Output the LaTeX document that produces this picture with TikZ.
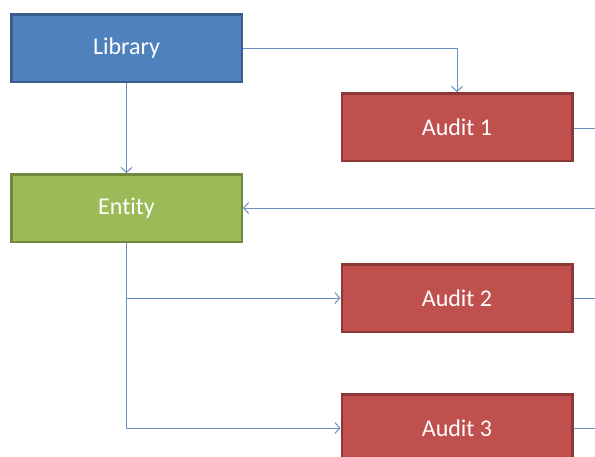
\documentclass[tikz,border=0pt]{standalone}
\usepackage{fontspec}
\setmainfont{Carlito}[Ligatures=NoCommon]
\usetikzlibrary{arrows.meta}
\usetikzlibrary{positioning}
\definecolor{libblue}{HTML}{4F81BD}
\definecolor{libborder}{HTML}{3A5F8C}
\definecolor{entgreen}{HTML}{9BBB59}
\definecolor{entborder}{HTML}{71893F}
\definecolor{audred}{HTML}{C0504D}
\definecolor{audborder}{HTML}{8C3836}
\definecolor{linkblue}{HTML}{6A90C0}
\begin{document}
\begin{tikzpicture}
  [x=1pt,y=-1pt,
  box/.style={rectangle,line width=2.5pt,minimum width=230.5pt,minimum height=67.5pt,inner sep=0pt,
    text=white,font=\fontsize{24}{28}\selectfont},
  libbox/.style={box,draw=libborder,fill=libblue},
  entbox/.style={box,draw=entborder,fill=entgreen},
  audbox/.style={box,draw=audborder,fill=audred},
  link/.style={draw=linkblue,line width=1pt,>={Straight Barb[length=5pt,width=11pt]}}]
  \useasboundingbox (0,0) rectangle (595,456);

  \node[libbox] (library) at (126.5,48) {Library};
  \node[entbox] (entity) at (126.5,208) {Entity};

  \node[audbox] (audit1) at (457,127) {Audit 1};
  \node[audbox] (audit2) at (457,298) {Audit 2};
  \node[audbox] (audit3) at (457,428) {Audit 3};

  \coordinate (out1) at (595,128);
  \coordinate (back) at (595,208);
  \coordinate (out2) at (595,298);
  \coordinate (out3) at (595,428);

  \draw [link,->] (library.east) -| (audit1.north);
  \draw [link,->] (library.south) -- (entity.north);

  \draw [link] (audit1.east |- out1) -- (out1);
  \draw [link,->] (back) -- (entity.east);

  \draw [link,->] (entity.south) |- (audit2.west);
  \draw [link,->] (entity.south) |- (audit3.west);

  \draw [link] (audit2.east) -- (out2);
  \draw [link] (audit3.east) -- (out3);

\end{tikzpicture}
\end{document}
